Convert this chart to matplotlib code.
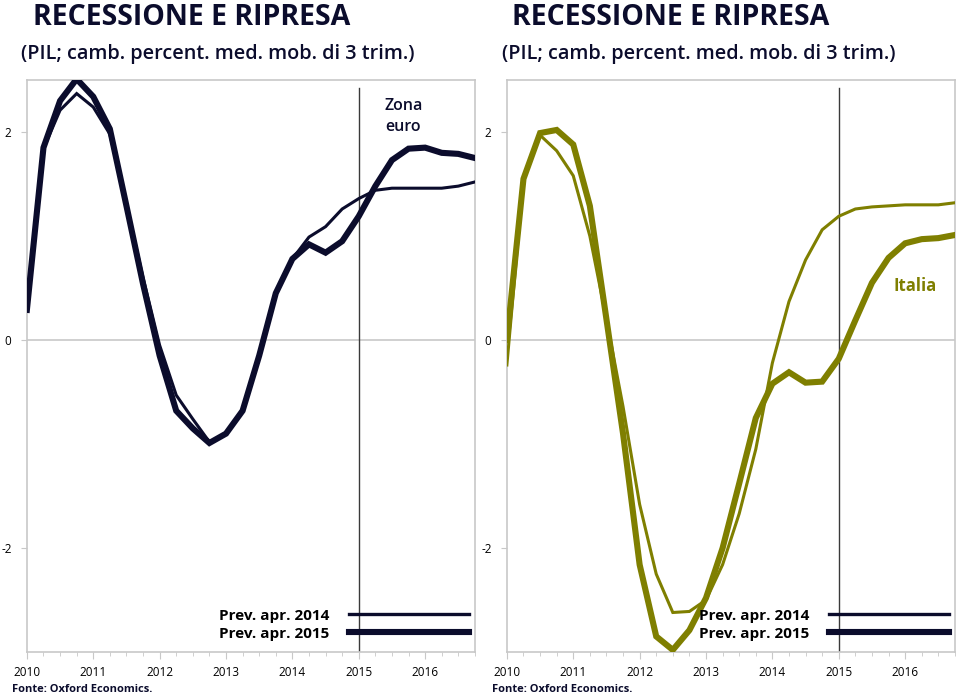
import matplotlib
matplotlib.use('Agg')
import matplotlib.pyplot as plt
from matplotlib.lines import Line2D
from matplotlib.ticker import MultipleLocator
import numpy as np

# trimestri dal 2010T1 al 2016T4
trimestri = 2010 + np.arange(28) / 4
anni = [2010, 2011, 2012, 2013, 2014, 2015, 2016]

# Zona euro (PIL, camb. percent. med. mob. 3 trim.)
euro_prev2014 = [0.29, 1.84, 2.21, 2.37, 2.24, 1.98, 1.30, 0.60, -0.05, -0.53,
                 -0.76, -0.98, -0.90, -0.68, -0.15, 0.45, 0.78, 0.99, 1.09, 1.26,
                 1.36, 1.44, 1.46, 1.46, 1.46, 1.46, 1.48, 1.52]
euro_prev2015 = [0.29, 1.85, 2.30, 2.51, 2.34, 2.03, 1.29, 0.54, -0.15, -0.68,
                 -0.85, -0.99, -0.90, -0.68, -0.15, 0.45, 0.78, 0.92, 0.84, 0.95,
                 1.19, 1.48, 1.73, 1.84, 1.85, 1.80, 1.79, 1.75]

# Italia
ita_prev2014 = [-0.24, 1.55, 1.97, 1.82, 1.58, 1.00, 0.20, -0.64, -1.58, -2.25,
                -2.62, -2.61, -2.50, -2.16, -1.67, -1.05, -0.22, 0.37, 0.77, 1.06,
                1.19, 1.26, 1.28, 1.29, 1.30, 1.30, 1.30, 1.32]
ita_prev2015 = [0.00, 1.55, 1.99, 2.02, 1.88, 1.29, 0.20, -0.90, -2.16, -2.85,
                -2.98, -2.79, -2.48, -2.00, -1.38, -0.75, -0.42, -0.31, -0.41, -0.40,
                -0.18, 0.19, 0.55, 0.79, 0.93, 0.97, 0.98, 1.01]

blu = '#0b0c2c'
oliva = '#7f7f00'
grigio = '#c8c8c8'
font = 'Open Sans'

fig = plt.figure(figsize=(9.6, 6.96), dpi=100)

pannelli = [
    (0.028, euro_prev2014, euro_prev2015, blu, 'Zona\neuro', 0.022, 0.034),
    (0.528, ita_prev2014, ita_prev2015, oliva, 'Italia', 0.523, 0.533),
]

for left, prev14, prev15, colore, nome, xsub, xtit in pannelli:
    ax = fig.add_axes([left, 0.0632, 0.4667, 0.8218])
    ax.plot(trimestri, prev14, color=colore, lw=2.2, solid_joinstyle='miter', zorder=3)
    ax.plot(trimestri, prev15, color=colore, lw=4.4, solid_joinstyle='miter', zorder=3)
    ax.axhline(0, color=grigio, lw=1.2, zorder=1)
    ax.plot([2015, 2015], [-3, 2.42], color='#3a3a3a', lw=1, zorder=2)

    ax.set_xlim(2010, 2016.75)
    ax.set_ylim(-3, 2.5)
    ax.set_yticks([-2, 0, 2])
    ax.set_yticklabels(['-2', '0', '2'], family=font, fontsize=8.5)
    ax.set_xticks(anni)
    ax.set_xticklabels([str(a) for a in anni], family=font, fontsize=8.5)
    ax.xaxis.set_minor_locator(MultipleLocator(0.25))
    ax.tick_params(axis='x', which='major', length=5, color=grigio, pad=5)
    ax.tick_params(axis='x', which='minor', length=3, color=grigio)
    ax.tick_params(axis='y', length=4, color=grigio, pad=7)
    for s in ax.spines.values():
        s.set_color(grigio)
        s.set_linewidth(1.2)

    # legenda con il nome della serie a sinistra del campione
    maniglie = [Line2D([], [], color=blu, lw=2.4), Line2D([], [], color=blu, lw=4.4)]
    ax.legend(maniglie, ['Prev. apr. 2014', 'Prev. apr. 2015'], loc='lower right',
              bbox_to_anchor=(1.0, 0.0093), markerfirst=False, frameon=False,
              handlelength=7.85, handletextpad=1.3, labelspacing=0.25,
              borderaxespad=0.0, prop={'family': font, 'weight': 'bold', 'size': 11})

    if nome == 'Italia':
        ax.text(2016.15, 0.52, nome, color=oliva, fontsize=12, fontweight='bold',
                family=font, ha='center', va='center')
    else:
        ax.text(2015.67, 2.15, nome, color=blu, fontsize=11.5, fontweight='semibold',
                family=font, ha='center', va='center', linespacing=1.35)

    fig.text(xtit, 1 - 25 / 696, 'RECESSIONE E RIPRESA', fontsize=20.5, fontweight='bold',
             family=font, color=blu, va='baseline')
    fig.text(xsub, 1 - 59 / 696, '(PIL; camb. percent. med. mob. di 3 trim.)', fontsize=14.3,
             fontweight='semibold', family=font, color=blu, va='baseline')
    fig.text(xsub - 0.01, 1 - 690 / 696, 'Fonte: Oxford Economics.', fontsize=8,
             fontweight='bold', family=font, color=blu, va='center')

fig.savefig('out.png', dpi=100)
